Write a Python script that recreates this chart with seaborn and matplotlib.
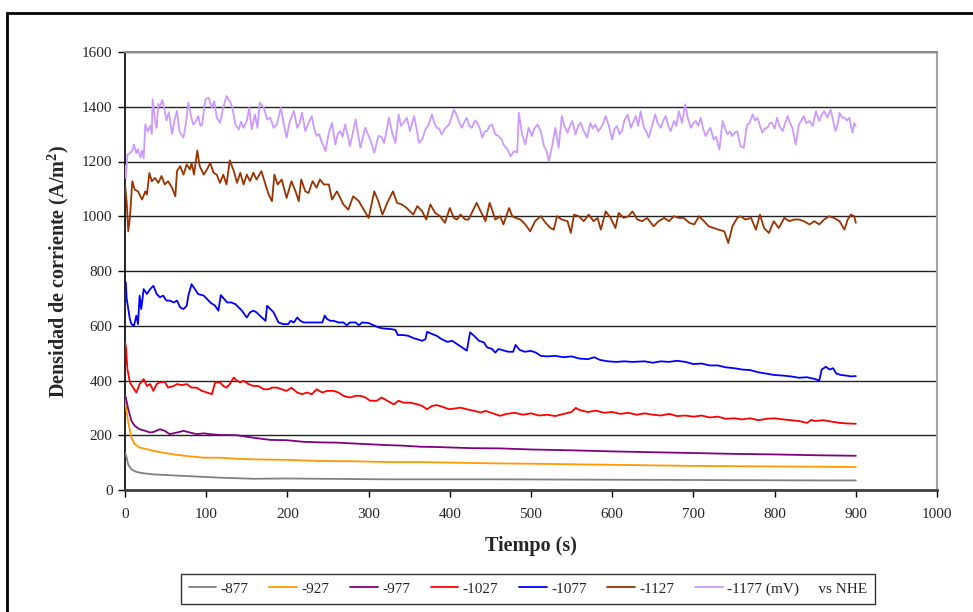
import numpy as np
import pandas as pd
import matplotlib
matplotlib.use("Agg")
import matplotlib.pyplot as plt
from matplotlib.patches import Rectangle
import seaborn as sns

# Potenciales aplicados (mV vs NHE) y colores de cada curva
potenciales = ["-877", "-927", "-977", "-1027", "-1077", "-1127", "-1177 (mV)"]
colores = ["#808080", "#FF9900", "#800080", "#FF0000", "#0000FF", "#993300", "#CC99FF"]

# Curvas cronoamperométricas: (tiempo [s], densidad de corriente [A/m2])
serie_877 = [(0, 135), (1, 130), (4, 93), (8, 75), (14, 66), (23, 61), (35, 57), (55, 54),
             (76, 51), (117, 45), (158, 41), (199, 42), (240, 41), (281, 40), (323, 39),
             (405, 39), (462, 39), (550, 38), (650, 37), (750, 36), (850, 35), (900, 35)]

serie_927 = [(0, 330), (1, 307), (4, 246), (8, 191), (12, 167), (18, 155), (27, 149), (35, 143),
             (47, 136), (60, 130), (76, 124), (97, 118), (117, 118), (138, 114), (158, 112),
             (199, 110), (240, 106), (281, 105), (323, 102), (364, 102), (405, 100), (462, 97),
             (500, 96), (550, 94), (600, 92), (650, 90), (700, 88), (750, 87), (800, 86),
             (850, 85), (900, 84)]

serie_977 = [(0, 345), (1, 338), (4, 295), (8, 252), (12, 234), (18, 222), (25, 216), (31, 210),
             (35, 212), (43, 222), (49, 216), (55, 204), (64, 210), (72, 216), (80, 210),
             (88, 204), (97, 207), (105, 204), (117, 201), (138, 200), (158, 191), (179, 183),
             (199, 182), (220, 176), (240, 174), (261, 173), (281, 170), (302, 167), (323, 164),
             (343, 162), (364, 158), (384, 157), (405, 155), (425, 153), (462, 152), (500, 148),
             (550, 145), (600, 141), (650, 138), (700, 135), (750, 132), (800, 130), (850, 127),
             (900, 125)]

serie_1027 = [(0, 540), (1, 527), (3, 441), (6, 393), (10, 374), (14, 356), (18, 387), (23, 405),
              (27, 380), (31, 387), (35, 362), (39, 387), (43, 393), (49, 395), (53, 374), (60, 380),
              (64, 387), (70, 383), (76, 387), (82, 374), (88, 374), (95, 362), (101, 356),
              (107, 350), (111, 393), (117, 393), (121, 380), (125, 374), (129, 387), (134, 411),
              (138, 399), (142, 393), (146, 399), (152, 387), (158, 380), (164, 380), (171, 368),
              (177, 368), (181, 374), (187, 374), (193, 368), (199, 362), (205, 374), (212, 356),
              (218, 350), (224, 356), (230, 350), (236, 368), (243, 356), (249, 362), (257, 362),
              (263, 356), (269, 344), (277, 338), (284, 344), (290, 344), (296, 338), (302, 326),
              (310, 326), (316, 338), (323, 326), (331, 313), (337, 326), (343, 319), (351, 319),
              (360, 313), (366, 307), (372, 295), (378, 307), (384, 310), (390, 305), (399, 295),
              (405, 297), (413, 301), (421, 295), (430, 289), (438, 283), (444, 289), (450, 283),
              (456, 277), (462, 271), (470, 278), (480, 282), (490, 275), (500, 280), (510, 272),
              (520, 275), (530, 270), (540, 278), (550, 285), (555, 300), (560, 292), (570, 285),
              (580, 290), (590, 282), (600, 285), (610, 278), (620, 282), (630, 275), (640, 280),
              (650, 275), (660, 272), (670, 278), (680, 270), (690, 272), (700, 268), (710, 272),
              (720, 265), (730, 268), (740, 260), (750, 262), (760, 258), (770, 262), (780, 255),
              (790, 260), (800, 262), (810, 258), (820, 255), (830, 252), (840, 245), (845, 256),
              (850, 252), (860, 255), (870, 250), (880, 245), (890, 243), (900, 242)]

serie_1077 = [(0, 760), (1, 759), (2, 700), (4, 661), (6, 624), (8, 606), (11, 600), (14, 637),
              (16, 606), (18, 710), (20, 661), (23, 734), (27, 716), (31, 734), (35, 746), (39, 716),
              (43, 704), (47, 710), (51, 692), (55, 692), (60, 685), (64, 692), (68, 667), (72, 661),
              (76, 673), (78, 710), (82, 752), (86, 734), (90, 716), (97, 710), (101, 698),
              (105, 685), (111, 673), (115, 655), (118, 712), (122, 698), (126, 685), (131, 685),
              (136, 679), (140, 667), (144, 655), (150, 630), (154, 649), (158, 655), (162, 649),
              (166, 637), (173, 618), (175, 673), (179, 661), (183, 649), (189, 612), (195, 606),
              (201, 606), (204, 618), (208, 612), (212, 630), (216, 618), (220, 612), (228, 612),
              (236, 612), (243, 612), (246, 637), (249, 624), (253, 618), (257, 618), (263, 612),
              (269, 612), (273, 602), (277, 612), (284, 612), (288, 602), (292, 612), (300, 610),
              (306, 602), (312, 594), (318, 590), (327, 588), (333, 585), (336, 566), (343, 566),
              (349, 563), (356, 554), (362, 549), (366, 545), (370, 551), (372, 578), (378, 570),
              (384, 563), (390, 551), (397, 541), (403, 545), (409, 533), (415, 521), (421, 509),
              (425, 576), (430, 563), (436, 545), (442, 539), (446, 521), (452, 515), (456, 502),
              (460, 515), (466, 510), (472, 505), (478, 505), (481, 530), (486, 512), (492, 505),
              (500, 508), (506, 502), (512, 490), (520, 488), (530, 490), (540, 485), (550, 488),
              (560, 480), (570, 478), (578, 485), (585, 475), (595, 470), (605, 468), (615, 470),
              (625, 468), (640, 470), (650, 465), (660, 470), (670, 468), (680, 472), (690, 468),
              (700, 460), (710, 462), (720, 455), (730, 455), (740, 448), (750, 445), (760, 440),
              (770, 438), (780, 430), (790, 425), (800, 420), (810, 418), (820, 415), (830, 410),
              (840, 412), (850, 405), (855, 400), (858, 440), (863, 450), (868, 440), (872, 445),
              (876, 425), (882, 420), (888, 418), (894, 415), (900, 416)]

serie_1127 = [(0, 1116), (2, 1055), (4, 945), (6, 994), (9, 1128), (12, 1097), (16, 1091), (21, 1061),
              (25, 1091), (27, 1079), (30, 1158), (33, 1128), (37, 1140), (41, 1122), (45, 1147),
              (49, 1116), (53, 1128), (58, 1104), (62, 1073), (64, 1165), (68, 1183), (72, 1152),
              (76, 1189), (80, 1171), (82, 1195), (85, 1152), (89, 1240), (92, 1183), (97, 1152),
              (101, 1171), (105, 1195), (109, 1159), (113, 1152), (117, 1122), (121, 1152),
              (125, 1116), (129, 1204), (134, 1165), (138, 1122), (142, 1159), (146, 1116),
              (150, 1152), (154, 1128), (158, 1159), (162, 1134), (168, 1165), (173, 1116),
              (177, 1079), (181, 1055), (184, 1152), (188, 1116), (193, 1134), (199, 1067),
              (205, 1128), (210, 1091), (214, 1055), (217, 1134), (222, 1091), (226, 1085),
              (231, 1128), (236, 1104), (240, 1134), (245, 1116), (251, 1116), (255, 1061),
              (261, 1091), (265, 1067), (269, 1043), (275, 1024), (281, 1073), (288, 1055),
              (294, 1024), (300, 994), (307, 1091), (312, 1055), (317, 1006), (323, 1049),
              (330, 1091), (335, 1049), (341, 1043), (347, 1030), (355, 1006), (360, 1037),
              (366, 1018), (371, 988), (376, 1043), (382, 1012), (388, 1000), (394, 976),
              (400, 1030), (405, 994), (409, 988), (413, 1006), (419, 988), (423, 988), (427, 1012),
              (433, 1049), (438, 1018), (444, 982), (449, 1049), (452, 1024), (456, 988), (462, 1000),
              (466, 970), (473, 1030), (477, 1000), (481, 994), (487, 988), (493, 970), (499, 945),
              (505, 982), (512, 1000), (518, 976), (524, 957), (528, 951), (532, 1000), (538, 988),
              (545, 982), (549, 939), (553, 1006), (559, 1000), (565, 982), (571, 1006), (577, 982),
              (582, 994), (586, 951), (592, 1018), (598, 994), (604, 957), (608, 1012), (614, 994),
              (620, 1000), (625, 1018), (631, 988), (637, 982), (643, 994), (651, 963), (657, 982),
              (664, 994), (670, 982), (676, 1000), (682, 994), (688, 994), (695, 976), (701, 970),
              (707, 1000), (713, 982), (719, 963), (725, 957), (731, 951), (738, 945), (743, 902),
              (748, 963), (754, 994), (758, 1000), (764, 988), (771, 994), (777, 951), (782, 1006),
              (787, 957), (793, 939), (799, 982), (805, 957), (812, 994), (818, 982), (824, 988),
              (830, 988), (836, 982), (843, 970), (849, 982), (855, 970), (861, 988), (867, 1000),
              (873, 994), (880, 982), (886, 951), (890, 988), (894, 1006), (898, 1000), (900, 976)]

serie_1177 = [(0, 1185), (1, 1140), (3, 1225), (6, 1230), (9, 1240), (11, 1262), (14, 1230), (16, 1245),
              (19, 1215), (21, 1240), (23, 1212), (25, 1335), (28, 1310), (31, 1330), (33, 1300),
              (34, 1427), (37, 1350), (39, 1323), (41, 1410), (43, 1400), (46, 1425), (49, 1385),
              (51, 1350), (54, 1380), (58, 1300), (61, 1350), (64, 1385), (67, 1310), (72, 1287),
              (75, 1340), (78, 1415), (81, 1370), (84, 1335), (87, 1345), (90, 1366), (93, 1330),
              (95, 1335), (99, 1427), (103, 1433), (107, 1396), (110, 1420), (113, 1360), (117, 1341),
              (121, 1396), (125, 1439), (129, 1420), (132, 1400), (136, 1335), (140, 1317), (143, 1345),
              (146, 1323), (150, 1348), (153, 1396), (156, 1317), (160, 1372), (163, 1323), (166, 1415),
              (171, 1396), (175, 1354), (179, 1360), (183, 1323), (187, 1335), (192, 1396), (196, 1330),
              (199, 1287), (203, 1348), (208, 1385), (212, 1323), (215, 1340), (218, 1378), (222, 1311),
              (226, 1340), (230, 1366), (233, 1320), (236, 1293), (239, 1300), (242, 1274), (247, 1238),
              (251, 1305), (255, 1341), (259, 1262), (262, 1300), (265, 1311), (268, 1290), (271, 1335),
              (274, 1300), (277, 1256), (281, 1310), (284, 1354), (287, 1300), (290, 1250), (293, 1290),
              (296, 1323), (299, 1300), (302, 1280), (307, 1232), (312, 1293), (316, 1290), (319, 1268),
              (322, 1310), (325, 1360), (329, 1305), (333, 1268), (337, 1372), (340, 1330), (343, 1341),
              (347, 1360), (351, 1311), (356, 1366), (359, 1320), (362, 1268), (366, 1280), (370, 1317),
              (374, 1335), (378, 1372), (381, 1340), (384, 1323), (387, 1320), (390, 1299), (394, 1320),
              (399, 1335), (402, 1360), (405, 1390), (409, 1366), (412, 1340), (415, 1323), (418, 1345),
              (421, 1360), (424, 1330), (427, 1323), (431, 1350), (434, 1341), (437, 1320), (440, 1287),
              (443, 1310), (446, 1311), (449, 1330), (452, 1335), (456, 1299), (460, 1293), (464, 1280),
              (466, 1262), (471, 1244), (475, 1219), (479, 1238), (483, 1232), (485, 1378), (489, 1299),
              (493, 1262), (497, 1323), (501, 1293), (504, 1320), (508, 1335), (512, 1311), (516, 1256),
              (519, 1240), (522, 1201), (526, 1256), (530, 1323), (534, 1250), (538, 1366), (541, 1330),
              (545, 1305), (548, 1330), (551, 1348), (555, 1299), (558, 1330), (561, 1341), (565, 1311),
              (569, 1287), (573, 1341), (576, 1320), (579, 1335), (583, 1310), (586, 1323), (589, 1340),
              (592, 1366), (596, 1329), (600, 1280), (603, 1320), (606, 1329), (609, 1300), (612, 1311),
              (615, 1350), (619, 1372), (623, 1323), (626, 1345), (629, 1366), (632, 1330), (635, 1384),
              (639, 1323), (642, 1310), (645, 1287), (649, 1330), (653, 1372), (656, 1340), (660, 1323),
              (663, 1350), (666, 1366), (669, 1330), (672, 1311), (676, 1348), (679, 1330), (682, 1384),
              (686, 1341), (690, 1409), (693, 1360), (697, 1323), (700, 1340), (703, 1348), (706, 1330),
              (709, 1360), (712, 1320), (715, 1293), (718, 1310), (721, 1323), (725, 1280), (728, 1290),
              (732, 1244), (736, 1348), (739, 1320), (742, 1299), (745, 1310), (748, 1293), (751, 1305),
              (754, 1311), (758, 1256), (762, 1250), (766, 1335), (769, 1340), (773, 1372), (776, 1350),
              (779, 1360), (782, 1330), (785, 1305), (788, 1320), (791, 1323), (794, 1340), (797, 1341),
              (800, 1320), (803, 1360), (806, 1330), (810, 1311), (813, 1340), (816, 1366), (819, 1340),
              (822, 1323), (826, 1262), (830, 1335), (833, 1350), (836, 1366), (839, 1340), (843, 1348),
              (847, 1330), (851, 1384), (855, 1348), (858, 1370), (861, 1384), (865, 1360), (869, 1390),
              (872, 1350), (875, 1311), (878, 1340), (880, 1378), (883, 1360), (886, 1360), (889, 1350),
              (892, 1360), (894, 1330), (896, 1305), (898, 1340), (900, 1329)]

series = [serie_877, serie_927, serie_977, serie_1027, serie_1077, serie_1127, serie_1177]

# Tabla larga para seaborn
filas = []
for nombre, datos in zip(potenciales, series):
    for t, j in datos:
        filas.append({"tiempo": t, "densidad": j, "serie": nombre})
df = pd.DataFrame(filas)

sns.set_theme(style="white")
plt.rcParams["font.family"] = ["Liberation Serif", "DejaVu Serif"]
plt.rcParams["mathtext.fontset"] = "custom"
plt.rcParams["mathtext.rm"] = "Liberation Serif"
plt.rcParams["mathtext.bf"] = "Liberation Serif:bold"

W, H = 973, 612
fig = plt.figure(figsize=(W / 100, H / 100), dpi=100)
fig.patch.set_facecolor("white")

# Área de trazado en píxeles: x 125-937, y 52-490
ax = fig.add_axes([125 / W, 1 - 490 / H, (937 - 125) / W, (490 - 52) / H])

# Rejilla horizontal
yticks = [0, 200, 400, 600, 800, 1000, 1200, 1400, 1600]
for y in yticks[1:]:
    ax.axhline(y, color="#222222", lw=1.0, zorder=1)

sns.lineplot(data=df, x="tiempo", y="densidad", hue="serie", hue_order=potenciales,
             palette=dict(zip(potenciales, colores)), estimator=None, sort=False,
             linewidth=1.3, legend=False, ax=ax, zorder=3)

ax.set_xlim(0, 1000)
ax.set_ylim(0, 1600)
ax.set_xticks([0, 100, 200, 300, 400, 500, 600, 700, 800, 900, 1000])
ax.set_yticks(yticks)
ax.tick_params(axis="both", which="major", labelsize=11, length=5, width=1,
               direction="out", color="black")
ax.tick_params(axis="x", pad=8)
ax.tick_params(axis="y", pad=4)
ax.xaxis.set_ticks_position("bottom")
ax.yaxis.set_ticks_position("left")

for lado, spine in ax.spines.items():
    spine.set_visible(True)
ax.spines["left"].set_color("black")
ax.spines["left"].set_linewidth(1.2)
ax.spines["bottom"].set_color("#404040")
ax.spines["bottom"].set_linewidth(2.0)
ax.spines["top"].set_color("#8c8c8c")
ax.spines["top"].set_linewidth(1.5)
ax.spines["right"].set_color("#a0a0a0")
ax.spines["right"].set_linewidth(1.5)

ax.set_xlabel("Tiempo (s)", fontsize=14.5, fontweight="bold")
ax.set_ylabel(r"Densidad de corriente (A/m$^\mathbf{2}$)", fontsize=14.5, fontweight="bold")
ax.xaxis.set_label_coords(0.5, -0.105)
ax.yaxis.set_label_coords(-0.066, 0.5)

# Leyenda inferior en una fila
handles = ax.get_lines()[-len(potenciales):]
etiquetas = potenciales[:-1] + ["-1177 (mV)     vs NHE"]
leg = fig.legend(handles, etiquetas, loc="center", ncol=len(potenciales),
                 bbox_to_anchor=(528 / W, 1 - 589 / H), fontsize=11,
                 frameon=True, fancybox=False, edgecolor="black",
                 handlelength=1.8, handletextpad=0.3, columnspacing=1.35,
                 borderpad=0.5)
leg.get_frame().set_linewidth(1.0)

# Marco exterior del gráfico
fig.add_artist(Rectangle((7 / W, -0.2), 1.5, 1 - 13 / H + 0.2, transform=fig.transFigure,
                         fill=False, edgecolor="black", linewidth=2.0))

fig.savefig("out.png", dpi=100)
